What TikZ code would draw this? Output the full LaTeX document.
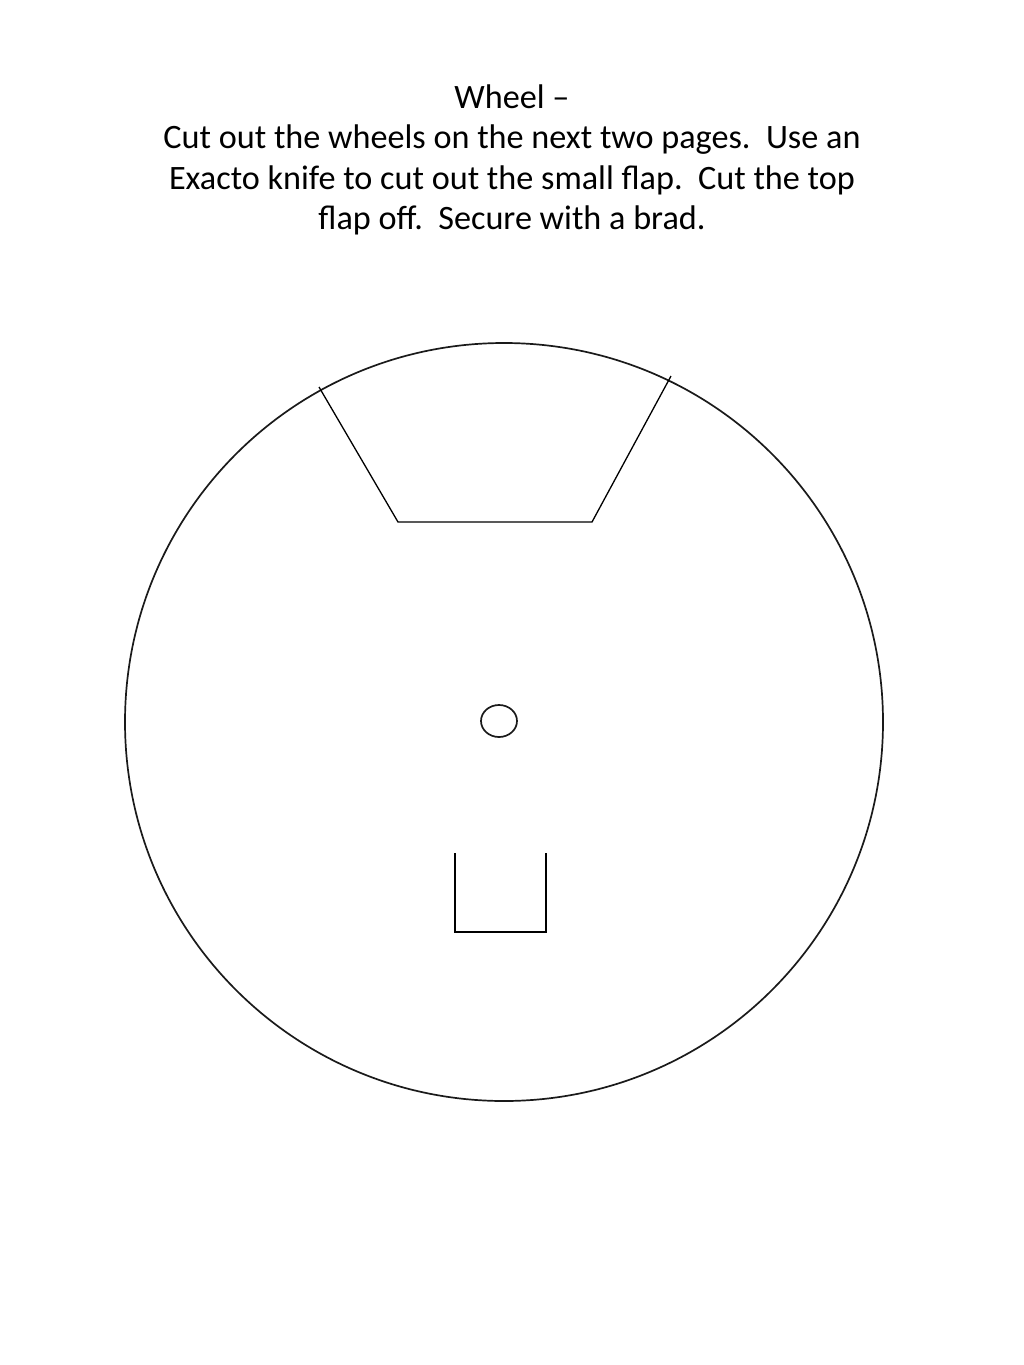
\documentclass[tikz,border=0pt]{standalone}
\usepackage{fontspec}
\setmainfont{Carlito}
\usetikzlibrary{positioning}
\definecolor{WheelLine}{HTML}{1A1A1A}

\begin{document}
\begin{tikzpicture}[x=1pt, y=-1pt,
    cutline/.style={draw=WheelLine, line width=1.7pt},
    foldline/.style={draw=black, line width=1.3pt}]
                \useasboundingbox (0,0) rectangle (1024,1365);

                % Instructions
                \node[align=center, font=\fontsize{34.2}{40.5}\selectfont] (title) at (512,160)
                    {Wheel --\\Cut out the wheels on the next two pages.\ \ Use an\\Exacto knife to cut out the small flap.\ \ Cut the top\\flap off.\ \ Secure with a brad.};

                % Wheel and hole for the brad
                \coordinate (hub) at (504,722);
                \draw[cutline] (hub) circle (379);
                \draw[cutline] (499,721) ellipse (18 and 16);

                % Top flap
                \coordinate (tl) at (319,387);
                \coordinate (bl) at (398,522);
                \coordinate (br) at (592,522);
                \coordinate (tr) at (671,376);
                \draw[foldline] (tl) -- (bl) -- (br) -- (tr);

                % Small flap
                \coordinate (sl) at (455,853);
                \coordinate (sr) at (546,853);
                \draw[foldline] (sl) -- (455,932) -- (546,932) -- (sr);
            \end{tikzpicture}
\end{document}
